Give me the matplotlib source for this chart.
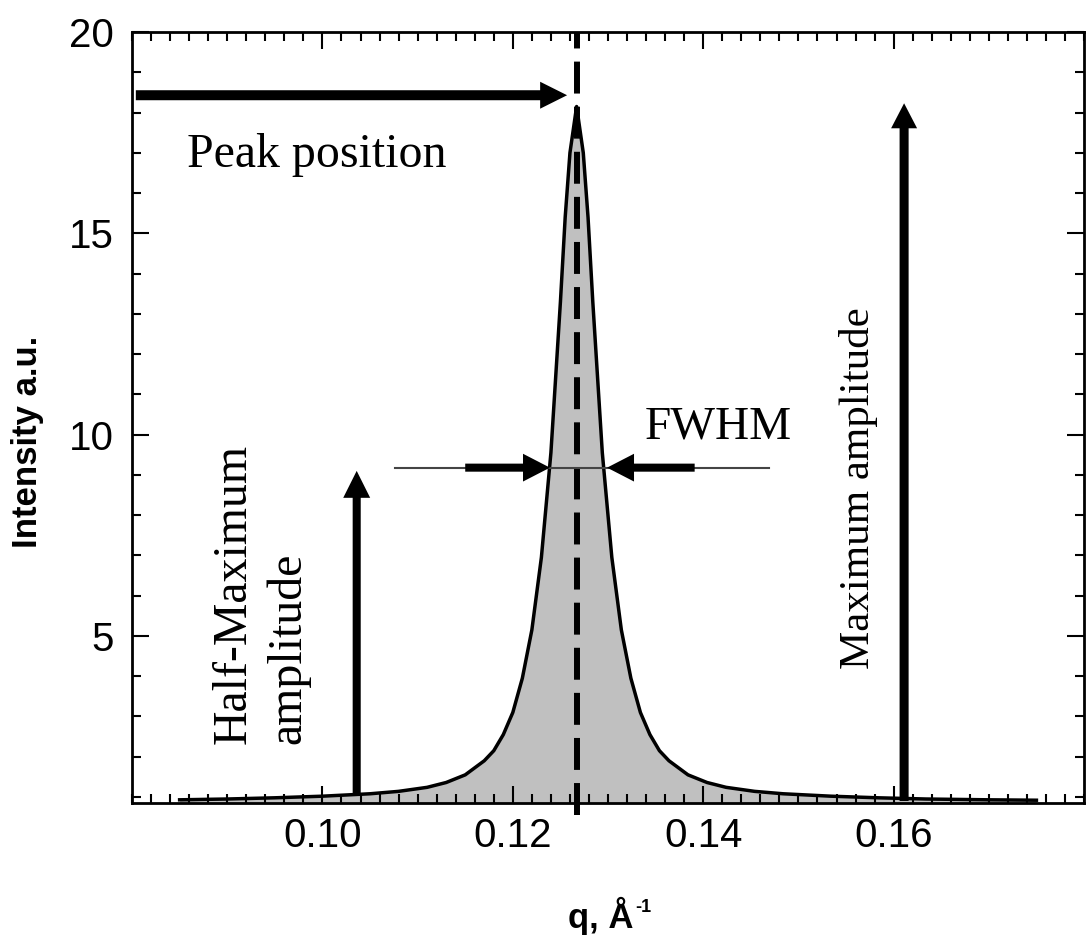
import matplotlib
matplotlib.use("Agg")
import matplotlib.pyplot as plt
from matplotlib.ticker import MultipleLocator

# peak profile
q = [0.085, 0.090, 0.095, 0.100, 0.105, 0.108, 0.111, 0.113, 0.115, 0.117,
     0.118, 0.119, 0.120, 0.121, 0.122, 0.123, 0.124, 0.125, 0.1255, 0.126,
     0.1267, 0.1274, 0.1279, 0.1284, 0.1294, 0.1304, 0.1314, 0.1324, 0.1334,
     0.1344, 0.1354, 0.1364, 0.1384, 0.1404, 0.1424, 0.1454, 0.1484, 0.1534,
     0.1584, 0.1634, 0.170, 0.175]
intensity = [0.93, 0.95, 0.98, 1.02, 1.08, 1.14, 1.24, 1.36, 1.55, 1.90,
             2.15, 2.55, 3.10, 3.95, 5.15, 6.95, 9.55, 13.3, 15.4, 17.0,
             18.15, 17.0, 15.4, 13.3, 9.55, 6.95, 5.15, 3.95, 3.10,
             2.55, 2.15, 1.90, 1.55, 1.36, 1.24, 1.14, 1.08, 1.02,
             0.98, 0.95, 0.93, 0.92]

peak_q = 0.1267
half_max = 9.18
fwhm_left, fwhm_right = 0.1239, 0.1299
x_ticks = [0.10, 0.12, 0.14, 0.16]
y_ticks = [5, 10, 15, 20]

serif = 'Liberation Serif'
sans = 'Liberation Sans'

fig = plt.figure(figsize=(10.92, 9.39), dpi=100)
ax = fig.add_axes([0.1209, 0.1448, 0.8718, 0.8211])

ymin = 0.85
ax.fill_between(q, intensity, ymin, color='#c0c0c0', lw=0, zorder=1)
ax.plot(q, intensity, color='k', lw=2.5, zorder=2)

# peak position dashed line (pokes a bit below the axis)
ax.axvline(peak_q, ymin=-0.015, ymax=1, clip_on=False, color='k', lw=4.3,
           dashes=(5.35, 2.2), zorder=3)

# FWHM thin line
ax.plot([0.1076, 0.1469], [half_max, half_max], color='#444444', lw=1.5, zorder=3)


def arrow(tail, tip, shaft, head_w, head_l):
    style = f'simple,head_length={head_l},head_width={head_w},tail_width={shaft}'
    ax.annotate('', xy=tip, xytext=tail,
                arrowprops=dict(arrowstyle=style, mutation_scale=1, color='k',
                                lw=0, shrinkA=0, shrinkB=0), zorder=4)


arrow((0.0804, 18.43), (0.1257, 18.43), 7.2, 19.4, 19.4)
arrow((0.1036, 1.05), (0.1036, 9.10), 5.8, 19.4, 19.4)
arrow((0.1611, 0.9), (0.1611, 18.23), 6.5, 18.7, 18.0)
arrow((0.1150, half_max), (fwhm_left, half_max), 5.8, 20, 19.4)
arrow((0.1391, half_max), (fwhm_right, half_max), 5.8, 20, 19.4)

ax.text(0.0858, 16.64, 'Peak position', family=serif, fontsize=34.5, va='baseline')
ax.text(0.1339, 9.90, 'FWHM', family=serif, fontsize=34, va='baseline')
ax.text(0.09355, 2.31, 'Half-Maximum\namplitude', family=serif, fontsize=34.5,
        rotation=90, ha='center', va='bottom', multialignment='left', linespacing=1.3)
ax.text(0.1563, 8.66, 'Maximum amplitude', family=serif, fontsize=31,
        rotation=90, ha='center', va='center')

ax.set_xlim(0.08, 0.18)
ax.set_ylim(ymin, 20)
ax.set_xticks(x_ticks)
ax.set_xticklabels([f'{t:.2f}' for t in x_ticks])
ax.xaxis.set_minor_locator(MultipleLocator(0.002))
ax.set_yticks(y_ticks)
ax.set_yticklabels([str(t) for t in y_ticks])
ax.yaxis.set_minor_locator(MultipleLocator(1))

ax.tick_params(which='both', direction='in', top=True, right=True, width=1.5)
ax.tick_params(which='major', length=12)
ax.tick_params(which='minor', length=6.5)
ax.tick_params(axis='x', pad=10)
ax.tick_params(axis='y', pad=13)
for lab in ax.get_xticklabels() + ax.get_yticklabels():
    lab.set_family(sans)
    lab.set_fontsize(29)
for sp in ax.spines.values():
    sp.set_linewidth(2)

fig.text(0.0256, 0.529, 'Intensity a.u.', family=sans, fontweight='bold', fontsize=25,
         rotation=90, ha='center', va='center')
fig.text(0.5797, 0.0117, 'q, Å', family=sans, fontweight='bold',
         fontsize=25, ha='right', va='baseline')
fig.text(0.5815, 0.0288, '-1', family=sans, fontweight='bold',
         fontsize=13, ha='left', va='baseline')

fig.savefig('out.png', dpi=100)
